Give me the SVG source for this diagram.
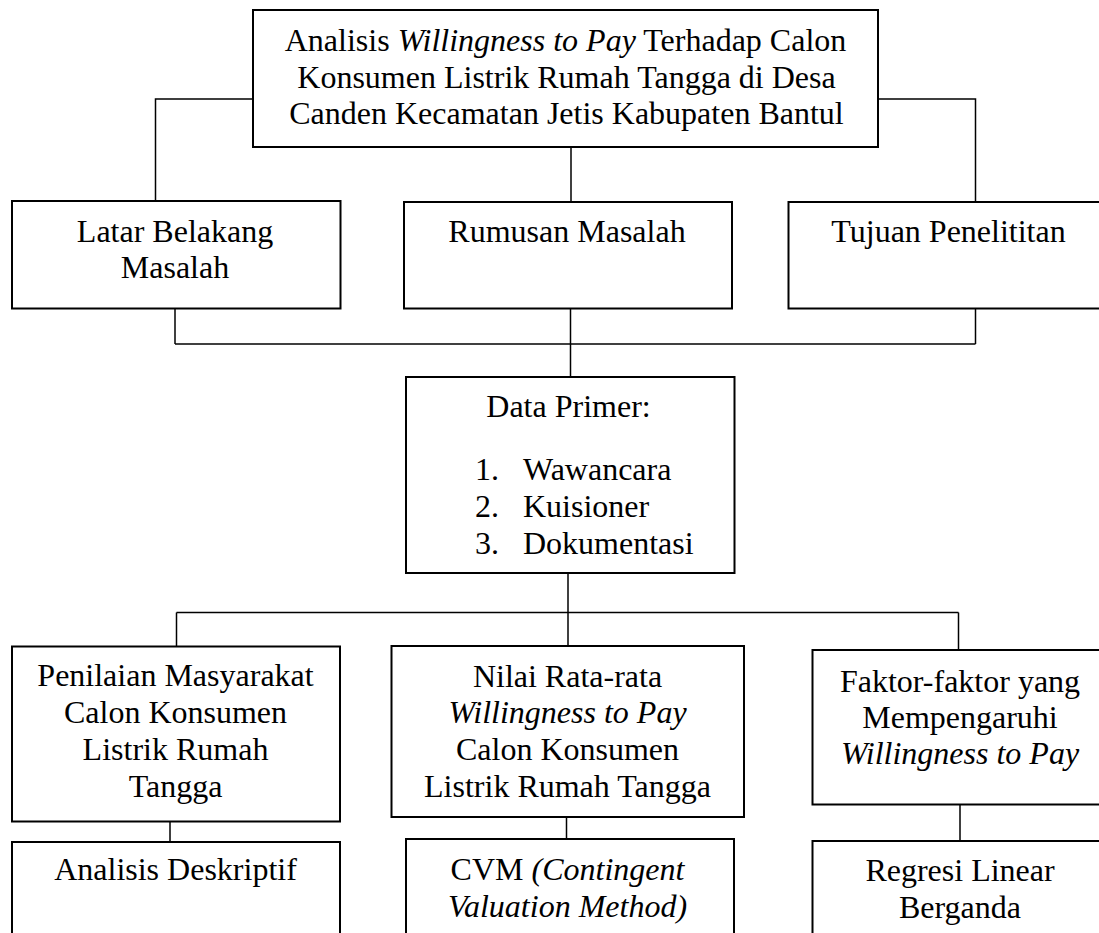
<svg xmlns="http://www.w3.org/2000/svg" width="1099" height="933" viewBox="0 0 1099 933">
<style>
  .box { fill: #fff; stroke: #000; stroke-width: 2; }
  .c { fill: none; stroke: #000; stroke-width: 1.5; }
  text { font-family: "Liberation Serif", "Times New Roman", serif; font-size: 32px; fill: #000; }
  .m { text-anchor: middle; }
  .i { font-style: italic; }
</style>
<rect width="1099" height="933" fill="#fff"/>
<g id="connectors">
  <polyline class="c" points="253,99 155.5,99 155.5,201"/>
  <polyline class="c" points="878,99 975.5,99 975.5,202"/>
  <line class="c" x1="571" y1="147" x2="571" y2="202"/>
  <line class="c" x1="175" y1="309" x2="175" y2="344"/>
  <line class="c" x1="975.5" y1="309" x2="975.5" y2="344"/>
  <line class="c" x1="175" y1="344" x2="975.5" y2="344"/>
  <line class="c" x1="570.5" y1="309" x2="570.5" y2="377"/>
  <line class="c" x1="568" y1="573" x2="568" y2="612.5"/>
  <line class="c" x1="176.5" y1="612.5" x2="958.5" y2="612.5"/>
  <line class="c" x1="176.5" y1="612.5" x2="176.5" y2="646"/>
  <line class="c" x1="568" y1="612.5" x2="568" y2="646"/>
  <line class="c" x1="958.5" y1="612.5" x2="958.5" y2="650"/>
  <line class="c" x1="170" y1="822" x2="170" y2="842"/>
  <line class="c" x1="566.5" y1="817" x2="566.5" y2="839"/>
  <line class="c" x1="960" y1="804.5" x2="960" y2="841"/>
</g>
<g id="node-title">
  <rect class="box" x="253" y="10" width="625" height="137"/>
  <text class="m" x="565.5" y="51">Analisis <tspan class="i">Willingness to Pay</tspan> Terhadap Calon</text>
  <text class="m" x="566.5" y="87.5">Konsumen Listrik Rumah Tangga di Desa</text>
  <text class="m" x="566.5" y="124">Canden Kecamatan Jetis Kabupaten Bantul</text>
</g>
<g id="node-latar">
  <rect class="box" x="12" y="201" width="328.5" height="107.5"/>
  <text class="m" x="175" y="241.5">Latar Belakang</text>
  <text class="m" x="175" y="277.5">Masalah</text>
</g>
<g id="node-rumusan">
  <rect class="box" x="404" y="202" width="328" height="106.5"/>
  <text class="m" x="567" y="242">Rumusan Masalah</text>
</g>
<g id="node-tujuan">
  <rect class="box" x="788.5" y="202" width="315" height="106.5"/>
  <text class="m" x="948.5" y="242">Tujuan Penelititan</text>
</g>
<g id="node-data">
  <rect class="box" x="406" y="377" width="328.5" height="196"/>
  <text class="m" x="568.5" y="417">Data Primer:</text>
  <text x="475" y="480">1.</text><text x="523" y="480">Wawancara</text>
  <text x="475" y="517">2.</text><text x="523" y="517">Kuisioner</text>
  <text x="475" y="554">3.</text><text x="523" y="554">Dokumentasi</text>
</g>
<g id="node-penilaian">
  <rect class="box" x="12" y="646.5" width="328" height="175"/>
  <text class="m" x="175.5" y="686">Penilaian Masyarakat</text>
  <text class="m" x="175.5" y="722.5">Calon Konsumen</text>
  <text class="m" x="175.5" y="759.5">Listrik Rumah</text>
  <text class="m" x="175.5" y="796.5">Tangga</text>
</g>
<g id="node-nilai">
  <rect class="box" x="391.5" y="646" width="352.5" height="171"/>
  <text class="m" x="567.5" y="686.5">Nilai Rata-rata</text>
  <text class="m i" x="567.5" y="722.5">Willingness to Pay</text>
  <text class="m" x="567.5" y="759.5">Calon Konsumen</text>
  <text class="m" x="567.5" y="796.5">Listrik Rumah Tangga</text>
</g>
<g id="node-faktor">
  <rect class="box" x="812.5" y="650" width="292" height="154.5"/>
  <text class="m" x="960" y="691.5">Faktor-faktor yang</text>
  <text class="m" x="960" y="727.5">Mempengaruhi</text>
  <text class="m i" x="960" y="763.5">Willingness to Pay</text>
</g>
<g id="node-analisis">
  <rect class="box" x="12" y="842" width="328" height="100"/>
  <text class="m" x="175.5" y="880">Analisis Deskriptif</text>
</g>
<g id="node-cvm">
  <rect class="box" x="406" y="839" width="328" height="103"/>
  <text class="m" x="567.5" y="880">CVM <tspan class="i">(Contingent</tspan></text>
  <text class="m i" x="567.5" y="916.5">Valuation Method)</text>
</g>
<g id="node-regresi">
  <rect class="box" x="812.5" y="841" width="292" height="101"/>
  <text class="m" x="960" y="881">Regresi Linear</text>
  <text class="m" x="960" y="917.5">Berganda</text>
</g>
</svg>
